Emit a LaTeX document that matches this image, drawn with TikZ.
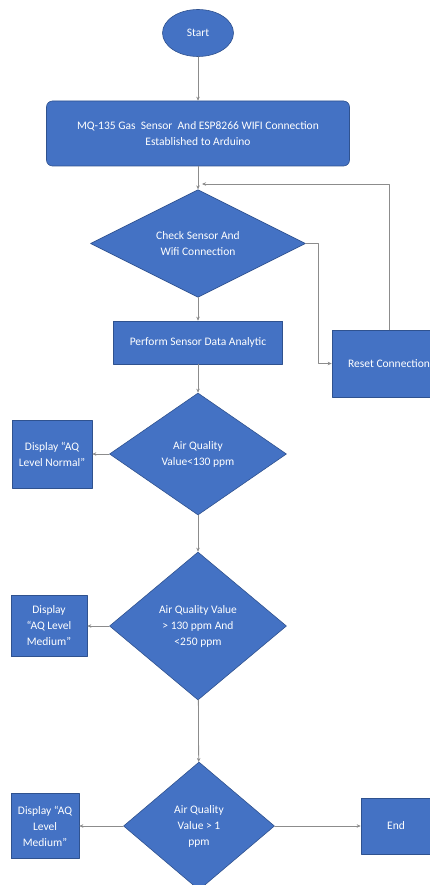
\documentclass[tikz,border=0pt]{standalone}
\usepackage{fontspec}
\setmainfont{Carlito}
\usetikzlibrary{shapes.geometric,arrows.meta}
\definecolor{boxblue}{HTML}{4472C4}
\definecolor{edgeblue}{HTML}{2F528F}
\definecolor{linegray}{HTML}{8C8C8C}
\begin{document}
\begin{tikzpicture}[x=1pt,y=-1pt,line cap=round,line join=round,
  base/.style={fill=boxblue,draw=edgeblue,line width=.6pt,text=white,
    font=\fontsize{11.5}{16}\selectfont,align=center,inner sep=0pt},
  terminal/.style={base,ellipse,minimum width=71pt,minimum height=47pt},
  process/.style={base,rectangle},
  decision/.style={base,diamond},
  flow/.style={draw=linegray,line width=.8pt,-{Stealth[length=4pt,width=3.5pt]}}]
 \useasboundingbox (0,0) rectangle (429,885);
 % main column
 \node[terminal] (start) at (198,33) {Start};
 \node[process,rounded corners=6pt,minimum width=303pt,minimum height=65pt] (setup) at (198,133.5)
   {MQ-135 Gas\ \ Sensor\ \ And ESP8266 WIFI Connection\\Established to Arduino};
 \node[decision,minimum width=215pt,minimum height=83pt] (check) at (198,243.5) {Check Sensor And\\Wifi Connection};
 \node[process,minimum width=169pt,minimum height=43pt] (analytic) at (198,342.5) {Perform Sensor Data Analytic};
 \node[process,minimum width=114pt,minimum height=67pt] (reset) at (389,363.5) {Reset Connection};
 \node[decision,minimum width=177pt,minimum height=122pt] (aq1) at (198,454) {Air Quality\\Value<130 ppm};
 \node[decision,minimum width=177pt,minimum height=148pt] (aq2) at (198,626) {Air Quality Value\\> 130 ppm And\\<250 ppm};
 \node[decision,minimum width=151pt,minimum height=128pt] (aq3) at (199,826) {Air Quality\\Value > 1\\ppm};
 % outputs
 \node[process,minimum width=80pt,minimum height=68pt] (normal) at (52,454) {Display “AQ\\Level Normal”};
 \node[process,minimum width=76pt,minimum height=61pt] (medium) at (49,626) {Display\\“AQ Level\\Medium”};
 \node[process,minimum width=68pt,minimum height=65pt] (medium2) at (45,826) {Display “AQ\\Level\\Medium”};
 \node[process,minimum width=70pt,minimum height=56pt] (end) at (396,826) {End};
 \coordinate (bend) at (318,243.5);
 \coordinate (loop) at (202,184);
 % connectors
 \draw[flow] (start) -- (setup);
 \draw[flow] (setup) -- (check);
 \draw[flow] (check.east) -- (bend) |- (reset.west);
 \draw[flow] (reset.north) |- (loop);
 \draw[flow] (check) -- (analytic);
 \draw[flow] (analytic) -- (aq1);
 \draw[flow] (aq1) -- (normal);
 \draw[flow] (aq1) -- (aq2);
 \draw[flow] (aq2) -- (medium);
 \draw[flow] (aq2) -- (aq3);
 \draw[flow] (aq3) -- (medium2);
 \draw[flow] (aq3) -- (end);
\end{tikzpicture}
\end{document}
